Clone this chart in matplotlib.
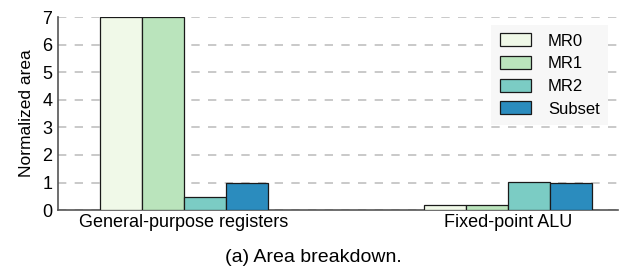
import matplotlib.pyplot as plt
import numpy as np

plt.rcParams['font.family'] = ['Liberation Sans', 'DejaVu Sans']

categories = ['General-purpose registers', 'Fixed-point ALU']
series = ['MR0', 'MR1', 'MR2', 'Subset']
values = {
    'MR0': [7.0, 0.18],
    'MR1': [7.0, 0.19],
    'MR2': [0.47, 1.02],
    'Subset': [1.0, 1.0],
}
colors = ['#f0f9e8', '#bae4bc', '#7bccc4', '#2b8cbe']

fig = plt.figure(figsize=(6.21, 2.75), dpi=100)
ax = fig.add_axes([0.0934, 0.236, 0.902, 0.702])

x = np.arange(len(categories))
width = 0.13
for i, s in enumerate(series):
    ax.bar(x + (i - 1.5) * width, values[s], width, color=colors[i],
           edgecolor='#1a1a1a', linewidth=0.9, label=s, zorder=3)

ax.set_xlim(-0.389, 1.34)
ax.set_ylim(0, 7)
ax.set_yticks(range(8))
ax.set_xticks(x)
ax.set_xticklabels(categories)
ax.tick_params(axis='both', length=0, labelsize=13, pad=4)
ax.tick_params(axis='x', pad=3)
ax.set_ylabel('Normalized area', fontsize=12.5, labelpad=6)
ax.yaxis.grid(True, linestyle=(0, (5, 5)), color='#c0c0c0', linewidth=1.2, zorder=0)
for side in ['top', 'right']:
    ax.spines[side].set_visible(False)
for side in ['left', 'bottom']:
    ax.spines[side].set_color('#555555')
    ax.spines[side].set_linewidth(1.2)

leg = ax.legend(loc='upper right', bbox_to_anchor=(0.982, 0.958), borderaxespad=0,
                fontsize=12, frameon=True, fancybox=False, handlelength=1.9,
                handleheight=0.8, labelspacing=0.45, borderpad=0.5, handletextpad=1.0)
leg.get_frame().set_facecolor('#f7f7f7')
leg.get_frame().set_edgecolor('none')
leg.get_frame().set_alpha(1)

fig.text(0.505, 0.065, '(a) Area breakdown.', ha='center', va='center', fontsize=14)

fig.savefig('out.png', dpi=100)
